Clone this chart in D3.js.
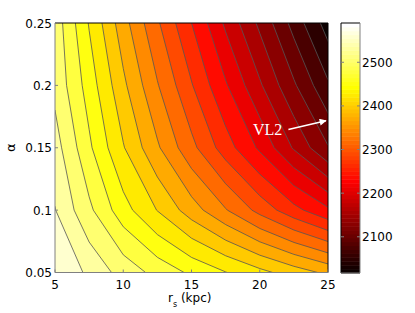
<!DOCTYPE html>
<html>
<head>
<meta charset="utf-8">
<script src="https://cdn.jsdelivr.net/npm/d3@7"></script>
<style>
  body { margin: 0; background: #fff; }
  text { font-family: "DejaVu Sans", "Liberation Sans", Arial, sans-serif; }
</style>
</head>
<body>
<div id="chart"></div>
<script>
// grid of the model
const rsValues = [5, 7.5, 10, 12.5, 15, 17.5, 20, 22.5, 25];
const alphaValues = [0.05, 0.1, 0.15, 0.2, 0.25];
const rowAlpha005 = [2590, 2557, 2525, 2499, 2476, 2455, 2434, 2413, 2393];
const rowAlpha010 = [2564, 2514, 2465, 2425, 2385, 2347, 2308, 2272, 2240];
const rowAlpha015 = [2548, 2486, 2428, 2376, 2325, 2276, 2230, 2178, 2128];
const rowAlpha020 = [2528, 2469, 2405, 2347, 2292, 2238, 2185, 2130, 2076];
const rowAlpha025 = [2524, 2452, 2383, 2321, 2263, 2203, 2148, 2089, 2031];

const levels = [2044, 2072, 2099, 2126, 2154, 2181, 2208, 2235, 2263, 2290,
                2317, 2345, 2372, 2399, 2426, 2454, 2481, 2508, 2536, 2563];
const colorLimits = [2017, 2590];

const xTicks = [5, 10, 15, 20, 25];
const yTicks = [0.05, 0.1, 0.15, 0.2, 0.25];
const yTickLabels = ["0.05", "0.1", "0.15", "0.2", "0.25"];
const cbarTicks = [2100, 2200, 2300, 2400, 2500];

const width = 415;
const height = 313;

// MATLAB hot(64)
function hot(v) {
  let i = Math.floor((v - colorLimits[0]) / (colorLimits[1] - colorLimits[0]) * 64);
  i = Math.max(0, Math.min(63, i));
  const k = i + 1;
  const r = k <= 24 ? k / 24 : 1;
  const g = k <= 24 ? 0 : (k <= 48 ? (k - 24) / 24 : 1);
  const b = k <= 48 ? 0 : (k - 48) / 16;
  return d3.rgb(r * 255, g * 255, b * 255).toString();
}

const x = d3.scaleLinear().domain([5, 25]).range([55, 328]);
const y = d3.scaleLinear().domain([0.05, 0.25]).range([272.5, 23]);

// grid index -> screen (d3.contours puts sample i at i + 0.5)
const gx = d3.scaleLinear()
  .domain([0.5, rsValues.length - 0.5])
  .range([x(rsValues[0]), x(rsValues[rsValues.length - 1])]);
const gy = d3.scaleLinear()
  .domain([0.5, alphaValues.length - 0.5])
  .range([y(alphaValues[0]), y(alphaValues[alphaValues.length - 1])]);

const grid = [rowAlpha005, rowAlpha010, rowAlpha015, rowAlpha020, rowAlpha025].flat();

const bands = d3.contours()
  .size([rsValues.length, alphaValues.length])
  .thresholds(levels)(grid);

const path = d3.geoPath(d3.geoTransform({
  point(px, py) { this.stream.point(gx(px), gy(py)); }
}));

const svg = d3.select("#chart").append("svg")
  .attr("width", width)
  .attr("height", height)
  .style("display", "block")
  .style("background", "#fff");

svg.append("clipPath")
  .attr("id", "plotClip")
  .append("rect")
  .attr("x", x(5))
  .attr("y", y(0.25))
  .attr("width", x(25) - x(5))
  .attr("height", y(0.05) - y(0.25));

const plot = svg.append("g").attr("clip-path", "url(#plotClip)");

plot.append("rect")
  .attr("x", x(5))
  .attr("y", y(0.25))
  .attr("width", x(25) - x(5))
  .attr("height", y(0.05) - y(0.25))
  .attr("fill", hot(colorLimits[0]));

plot.selectAll("path.band")
  .data(bands)
  .join("path")
  .attr("class", "band")
  .attr("d", path)
  .attr("fill", d => hot(d.value))
  .attr("stroke", "none");

plot.selectAll("path.line")
  .data(bands)
  .join("path")
  .attr("class", "line")
  .attr("d", path)
  .attr("fill", "none")
  .attr("stroke", "#555")
  .attr("stroke-width", 0.8);

// annotation
svg.append("defs").append("marker")
  .attr("id", "arrowHead")
  .attr("viewBox", "0 0 10 10")
  .attr("refX", 9)
  .attr("refY", 5)
  .attr("markerWidth", 9)
  .attr("markerHeight", 7)
  .attr("markerUnits", "userSpaceOnUse")
  .attr("orient", "auto")
  .append("path")
  .attr("d", "M0,0L10,5L0,10Z")
  .attr("fill", "#fff");

svg.append("line")
  .attr("x1", x(22.1))
  .attr("y1", y(0.1646))
  .attr("x2", x(24.85))
  .attr("y2", y(0.1717))
  .attr("stroke", "#fff")
  .attr("stroke-width", 1.6)
  .attr("marker-end", "url(#arrowHead)");

svg.append("text")
  .attr("x", x(19.5))
  .attr("y", y(0.16))
  .attr("fill", "#fff")
  .style("font-family", "'Liberation Serif', 'DejaVu Serif', serif")
  .style("font-size", "16px")
  .text("VL2");

// axes frame
const ax = svg.append("g");
ax.append("line").attr("x1", x(5)).attr("x2", x(25)).attr("y1", y(0.25)).attr("y2", y(0.25))
  .attr("stroke", "#000");
ax.append("line").attr("x1", x(25)).attr("x2", x(25)).attr("y1", y(0.25)).attr("y2", y(0.05))
  .attr("stroke", "#000");
ax.append("line").attr("x1", x(5)).attr("x2", x(25)).attr("y1", y(0.05)).attr("y2", y(0.05))
  .attr("stroke", "#808080");
ax.append("line").attr("x1", x(5)).attr("x2", x(5)).attr("y1", y(0.25)).attr("y2", y(0.05))
  .attr("stroke", "#808080");

ax.selectAll("line.xt")
  .data(xTicks)
  .join("line")
  .attr("class", "xt")
  .attr("x1", d => x(d)).attr("x2", d => x(d))
  .attr("y1", y(0.05)).attr("y2", y(0.05) - 3)
  .attr("stroke", "#808080");

ax.selectAll("line.yt")
  .data(yTicks)
  .join("line")
  .attr("class", "yt")
  .attr("x1", x(5)).attr("x2", x(5) + 3)
  .attr("y1", d => y(d)).attr("y2", d => y(d))
  .attr("stroke", "#808080");

ax.selectAll("text.xl")
  .data(xTicks)
  .join("text")
  .attr("class", "xl")
  .attr("x", d => x(d))
  .attr("y", 289)
  .attr("text-anchor", "middle")
  .style("font-size", "12px")
  .text(d => d);

ax.selectAll("text.yl")
  .data(yTicks)
  .join("text")
  .attr("class", "yl")
  .attr("x", 52)
  .attr("y", d => y(d) + 4.5)
  .attr("text-anchor", "end")
  .style("font-size", "12px")
  .text((d, i) => yTickLabels[i]);

const xLabel = svg.append("text")
  .attr("x", 168)
  .attr("y", 302)
  .style("font-size", "12px");
xLabel.append("tspan").text("r");
xLabel.append("tspan").attr("dy", 5).style("font-size", "8px").text("s");
xLabel.append("tspan").attr("dy", -5).text(" (kpc)");

svg.append("text")
  .attr("transform", `translate(15,${y(0.15)}) rotate(-90)`)
  .attr("text-anchor", "middle")
  .style("font-size", "13px")
  .text("α");

// colorbar
const cbX = 341, cbW = 19;
const cy = d3.scaleLinear().domain(colorLimits).range([273, 23]);
const cbStep = (colorLimits[1] - colorLimits[0]) / 64;
const cbSteps = d3.range(64).map(i => colorLimits[0] + cbStep * i);

const cb = svg.append("g");
cb.selectAll("rect")
  .data(cbSteps)
  .join("rect")
  .attr("x", cbX)
  .attr("width", cbW)
  .attr("y", d => cy(d + cbStep))
  .attr("height", d => cy(d) - cy(d + cbStep) + 0.5)
  .attr("fill", d => hot(d + cbStep / 2));

cb.append("line").attr("x1", cbX).attr("x2", cbX + cbW).attr("y1", 23).attr("y2", 23).attr("stroke", "#000");
cb.append("line").attr("x1", cbX).attr("x2", cbX).attr("y1", 23).attr("y2", 273).attr("stroke", "#000");
cb.append("line").attr("x1", cbX + cbW).attr("x2", cbX + cbW).attr("y1", 23).attr("y2", 273).attr("stroke", "#808080");
cb.append("line").attr("x1", cbX).attr("x2", cbX + cbW).attr("y1", 273).attr("y2", 273).attr("stroke", "#808080");

cb.selectAll("line.ct")
  .data(cbarTicks)
  .join("line")
  .attr("class", "ct")
  .attr("x1", cbX + cbW - 3).attr("x2", cbX + cbW)
  .attr("y1", d => cy(d)).attr("y2", d => cy(d))
  .attr("stroke", "#808080");

cb.selectAll("line.ctl")
  .data(cbarTicks)
  .join("line")
  .attr("class", "ctl")
  .attr("x1", cbX).attr("x2", cbX + 3)
  .attr("y1", d => cy(d)).attr("y2", d => cy(d))
  .attr("stroke", "#808080");

cb.selectAll("text")
  .data(cbarTicks)
  .join("text")
  .attr("x", cbX + cbW + 2)
  .attr("y", d => cy(d) + 4.5)
  .style("font-size", "12px")
  .text(d => d);
</script>
</body>
</html>
